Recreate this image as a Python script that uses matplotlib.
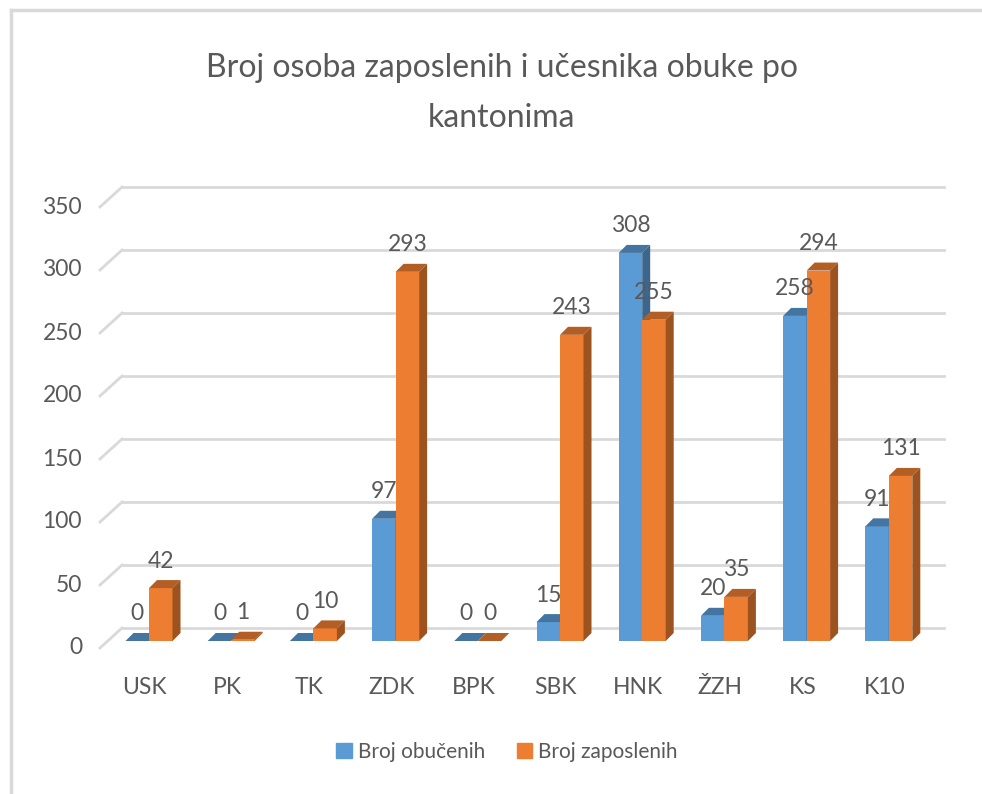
import matplotlib.pyplot as plt
from matplotlib.patches import Polygon, Patch
from matplotlib.lines import Line2D

kantoni = ['USK', 'PK', 'TK', 'ZDK', 'BPK', 'SBK', 'HNK', 'ŽZH', 'KS', 'K10']
obuceni = [0, 0, 0, 97, 0, 15, 308, 20, 258, 91]
zaposleni = [42, 1, 10, 293, 0, 243, 255, 35, 294, 131]
y_ticks = [0, 50, 100, 150, 200, 250, 300, 350]

plt.rcParams['font.family'] = ['Lato', 'DejaVu Sans']
txt = '#595959'
grid = '#d9d9d9'
fs = 16.5

W, H = 982, 794
fig = plt.figure(figsize=(W / 100, H / 100), dpi=100)

# axes placed in pixel terms; x in category units, y in value units
px_x, px_y = 82.2, 1.26        # pixels per category / per value unit
x0_px, y0_px = 149, 641        # pixel of category 0 / value 0
left, right, top, bottom = 100, 950, 180, 660
ax = fig.add_axes([left / W, 1 - bottom / H, (right - left) / W, (bottom - top) / H])
ax.set_xlim((left - x0_px) / px_x, (right - x0_px) / px_x)
ax.set_ylim(-(bottom - y0_px) / px_y, (y0_px - top) / px_y)
ax.axis('off')

# 3d-ish wall gridlines
back_dy = 13 / px_y
front_dy = -7 / px_y
wall_x = (122 - x0_px) / px_x
front_x = (100 - x0_px) / px_x
end_x = (944 - x0_px) / px_x
for v in y_ticks:
    ax.plot([wall_x, end_x], [v + back_dy, v + back_dy], color=grid, lw=2, zorder=1, clip_on=False)
    ax.plot([front_x, wall_x], [v + front_dy, v + back_dy], color=grid, lw=2, zorder=1, clip_on=False)
    ax.text((82 - x0_px) / px_x, v + front_dy, str(v), ha='right', va='center',
            fontsize=fs, color=txt)

w = 23.5 / px_x
dx, dy = 8 / px_x, 8 / px_y


def shade(c, f):
    c = c.lstrip('#')
    r, g, b = (int(c[i:i + 2], 16) / 255 for i in (0, 2, 4))
    return (r * f, g * f, b * f)


def bar3d(x, v, col, z):
    ax.bar(x, v, width=w, align='edge', color=col, zorder=z, linewidth=0)
    ax.add_patch(Polygon([(x, v), (x + w, v), (x + w + dx, v + dy), (x + dx, v + dy)],
                         closed=True, fc=shade(col, 0.75), ec='none', zorder=z))
    ax.add_patch(Polygon([(x + w, 0), (x + w + dx, dy), (x + w + dx, v + dy), (x + w, v)],
                         closed=True, fc=shade(col, 0.66), ec='none', zorder=z))
    ax.text(x + w / 2, v + 27 / px_y, str(v), ha='center', va='center',
            fontsize=fs, color=txt, zorder=50)


blue, orange = '#5B9BD5', '#ED7D31'
for i, k in enumerate(kantoni):
    bar3d(i - w, obuceni[i], blue, 3 + 2 * i)
    bar3d(i, zaposleni[i], orange, 4 + 2 * i)
    ax.text(i - 0.05, -(688 - y0_px) / px_y, k, ha='center', va='center',
            fontsize=fs, color=txt)

fig.text(502 / W, 1 - 68 / H, 'Broj osoba zaposlenih i učesnika obuke po',
         ha='center', va='center', fontsize=23, color=txt)
fig.text(502 / W, 1 - 118 / H, 'kantonima', ha='center', va='center', fontsize=23, color=txt)

handles = [Patch(color=blue, label='Broj obučenih'), Patch(color=orange, label='Broj zaposlenih')]
fig.legend(handles=handles, loc='center', bbox_to_anchor=(507 / W, 1 - 752 / H), ncol=2,
           frameon=False, fontsize=15, labelcolor=txt, handlelength=0.75, handleheight=0.75,
           handletextpad=0.3, columnspacing=1.5)

# chart border (only top and left visible in the crop)
fig.add_artist(Line2D([11 / W, 11 / W], [0, 1 - 10 / H], color=grid, lw=2.5))
fig.add_artist(Line2D([11 / W, 1], [1 - 10 / H, 1 - 10 / H], color=grid, lw=2.5))

fig.savefig('out.png', dpi=100, facecolor='white')
